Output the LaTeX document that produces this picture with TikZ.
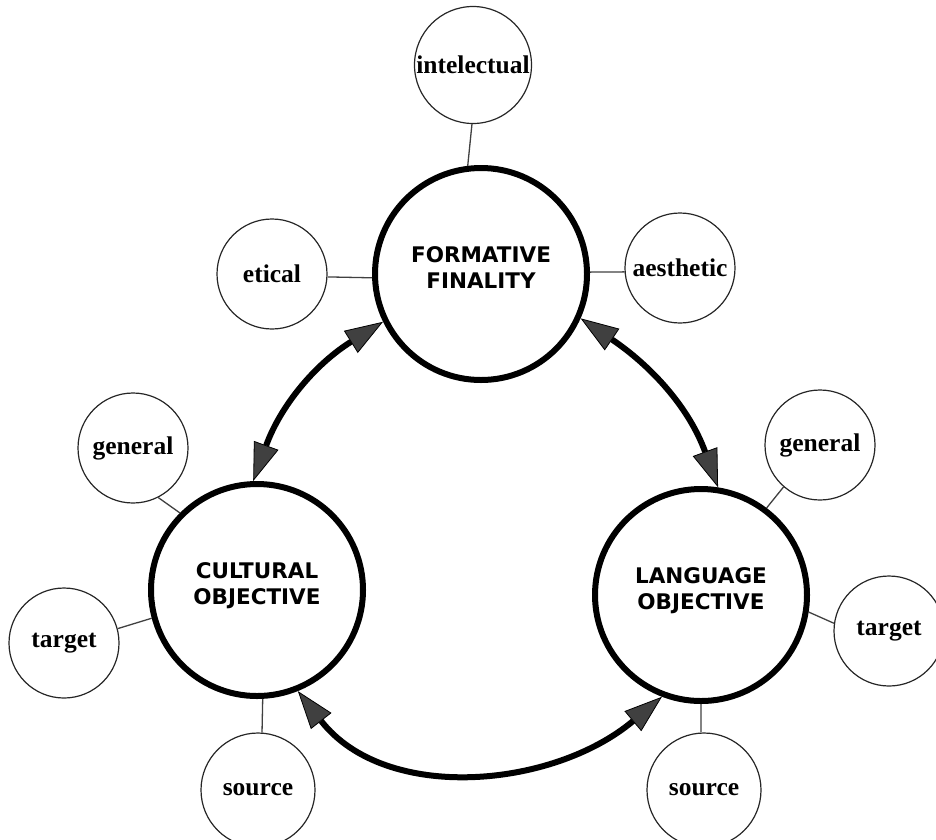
\documentclass[tikz,border=0pt]{standalone}
\usepackage{fontspec}
\usetikzlibrary{arrows.meta}
\newfontfamily\labfont{Liberation Serif}
\newfontfamily\bigfont{DejaVu Sans}
\begin{document}
\begin{tikzpicture}[x=1pt,y=1pt,
  bigc/.style={circle,draw=black,line width=6pt,minimum size=212pt,inner sep=0pt,
    font=\bigfont\bfseries\fontsize{21.5}{26}\selectfont,align=center,text depth=12pt},
  smallc/.style={circle,draw=black!85,line width=1.2pt,minimum size=110pt,inner sep=0pt,
    font=\labfont\bfseries\fontsize{25.5}{30}\selectfont},
  link/.style={draw=black!75,line width=1.3pt},
  dbl/.style={draw=black,line width=6pt,
    {Triangle[length=38pt,width=26pt,line width=0.8pt,fill=black!75]}-{Triangle[length=38pt,width=26pt,line width=0.8pt,fill=black!75]}}
]
\useasboundingbox (0,0) rectangle (936,-839);

% main circles
\node[bigc] (ff) at (481,-274) {FORMATIVE\\FINALITY};
\node[bigc] (co) at (257,-590) {CULTURAL\\OBJECTIVE};
\node[bigc] (la) at (701,-595) {LANGUAGE\\OBJECTIVE};

% satellite circles
\node[smallc,minimum size=117pt] (int) at (473,-65) {intelectual};
\node[smallc] (et) at (272,-274) {etical};
\node[smallc] (ae) at (680,-268) {aesthetic};
\node[smallc] (gl) at (133,-448) {general};
\node[smallc] (tl) at (64,-643) {target};
\node[smallc,minimum size=114pt] (sl) at (258,-790) {source};
\node[smallc] (gr) at (820,-445) {general};
\node[smallc] (tr) at (889,-631) {target};
\node[smallc,minimum size=114pt] (sr) at (704,-790) {source};

% links
\draw[link] (int.-91) -- (ff.97);
\draw[link] (et.-3) -- (ff.182);
\draw[link] (ae.184) -- (ff.1);
\draw[link] (gl.-63) -- (co.135);
\draw[link] (tl.15) -- (co.195);
\draw[link] (sl.86) -- (co.-87);
\draw[link] (gr.229) -- (la.53);
\draw[link] (tr.172) -- (la.-9);
\draw[link] (sr.93) -- (la.-90);

% double arrows
\draw[dbl] (co.92) to[out=70,in=212] (ff.206);
\draw[dbl] (ff.-24) to[out=-34,in=110] (la.81);
\draw[dbl] (co.-68) to[out=-52,in=220] (la.-111);
\end{tikzpicture}
\end{document}
